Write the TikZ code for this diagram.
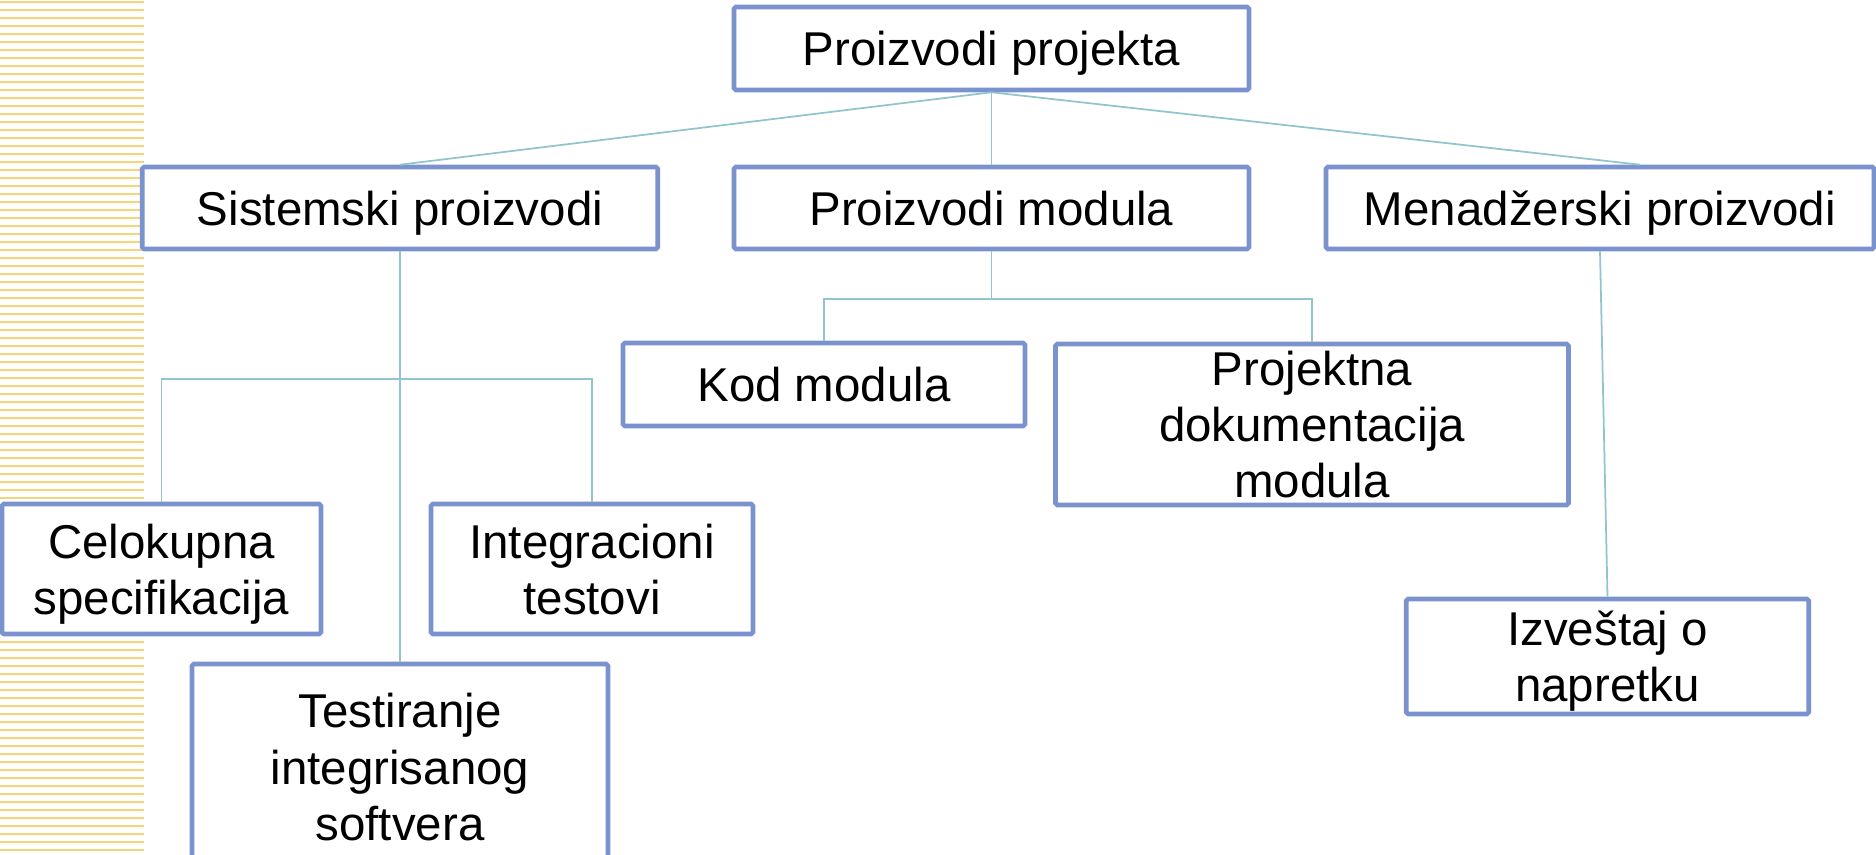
\documentclass[tikz,border=0pt]{standalone}
\usepackage{fontspec}
\setmainfont{Liberation Sans}
\definecolor{boxblue}{RGB}{122,147,207}
\definecolor{linkteal}{RGB}{146,196,206}
\definecolor{stripegold}{RGB}{246,212,122}

\begin{document}
\begin{tikzpicture}
    \tikzset{box/.style={draw=boxblue, line width=2.6pt, rounded corners=1pt, fill=white, inner sep=0pt, align=center,
            text depth=0pt, font=\fontsize{27pt}{32pt}\selectfont},
        link/.style={draw=linkteal, line width=1pt},
        stripe/.style={draw=stripegold, line width=1.4pt}
    }
    \useasboundingbox (0,0) rectangle (37.52,-17.1);

    \foreach \i in {0,...,106} {
        \draw [stripe] (0,-0.04-0.16*\i) -- (2.88,-0.04-0.16*\i);
    }

    \node (Proj) [box, minimum width=10.3cm, minimum height=1.66cm] at (19.83,-0.97) {Proizvodi projekta};

    \node (Sys) [box, minimum width=10.31cm, minimum height=1.64cm] at (8.0,-4.16) {Sistemski proizvodi};
    \node (Mod) [box, minimum width=10.3cm, minimum height=1.64cm] at (19.83,-4.16) {Proizvodi modula};
    \node (Men) [box, minimum width=10.96cm, minimum height=1.64cm] at (32.0,-4.16) {Menadžerski proizvodi};

    \node (Kod) [box, minimum width=8.04cm, minimum height=1.66cm] at (16.48,-7.69) {Kod modula};
    \node (PDok) [box, minimum width=10.26cm, minimum height=3.22cm] at (26.24,-8.49) {Projektna\\dokumentacija\\modula};

    \node (Celo) [box, minimum width=6.38cm, minimum height=2.6cm] at (3.23,-11.38) {Celokupna\\specifikacija};
    \node (Integ) [box, minimum width=6.44cm, minimum height=2.6cm] at (11.84,-11.38) {Integracioni\\testovi};
    \node (Test) [box, minimum width=8.32cm, minimum height=4.12cm] at (8.0,-15.34) {Testiranje\\integrisanog\\softvera};

    \node (Izv) [box, minimum width=8.05cm, minimum height=2.3cm] at (32.15,-13.13) {Izveštaj o\\napretku};

    % first level
    \draw [link] (Proj.south) -- (Sys.north);
    \draw [link] (Proj.south) -- (Mod.north);
    \draw [link] (Proj.south) -- ([xshift=0.8cm]Men.north);

    % module products
    \foreach \c in {Kod, PDok} {
        \draw [link] (Mod.south) -- ++(0,-0.96) -| (\c.north);
    }

    % system products
    \foreach \c in {Celo, Integ} {
        \draw [link] (Sys.south) -- ++(0,-2.56) -| (\c.north);
    }
    \draw [link] (Sys.south) -- (Test.north);

    \draw [link] (Men.south) -- (Izv.north);
\end{tikzpicture}
\end{document}
